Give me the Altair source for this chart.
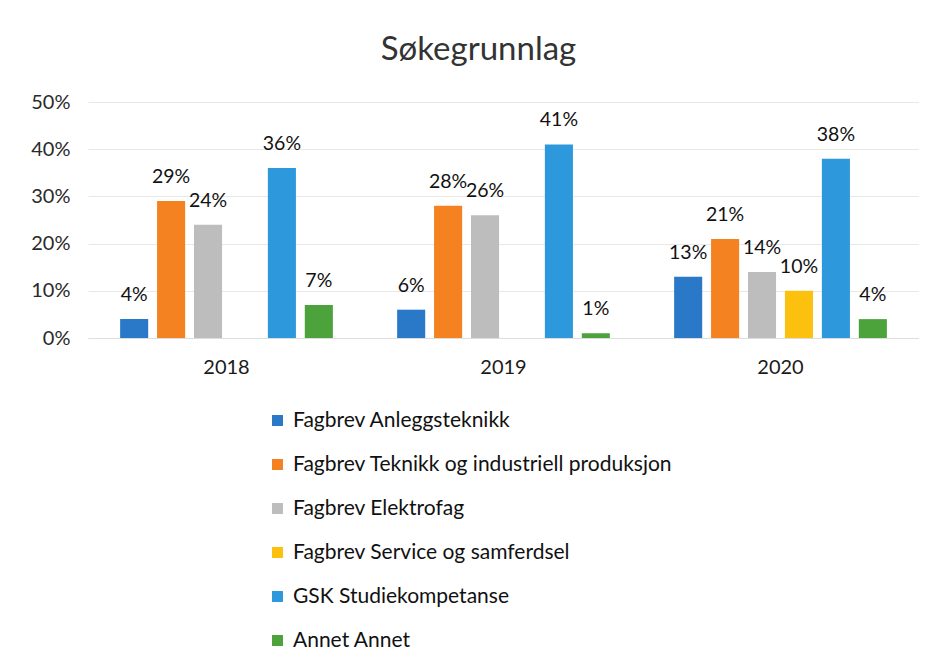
import altair as alt
import pandas as pd

years = ["2018", "2019", "2020"]
series = [
    "Fagbrev Anleggsteknikk",
    "Fagbrev Teknikk og industriell produksjon",
    "Fagbrev Elektrofag",
    "Fagbrev Service og samferdsel",
    "GSK Studiekompetanse",
    "Annet Annet",
]
anlegg = [4, 6, 13]
teknikk = [29, 28, 21]
elektro = [24, 26, 14]
service = [None, None, 10]
gsk = [36, 41, 38]
annet = [7, 1, 4]
colors = ["#2a78c8", "#f58220", "#bdbdbd", "#fcc10f", "#2e98dc", "#4da33b"]

rows = []
for s, vals in zip(series, [anlegg, teknikk, elektro, service, gsk, annet]):
    for y, v in zip(years, vals):
        if v is not None:
            rows.append({"year": y, "series": s, "value": v / 100})
df = pd.DataFrame(rows)

FONT = "Lato"

base = alt.Chart(df).encode(
    x=alt.X("year:N", sort=years, title=None,
            scale=alt.Scale(paddingInner=0, paddingOuter=0),
            axis=alt.Axis(labelAngle=0, labelFontSize=20, labelColor="#1a1a1a",
                          labelFont=FONT, labelPadding=19, ticks=False,
                          domainColor="#dddddd")),
    xOffset=alt.XOffset("series:N", sort=series,
                        scale=alt.Scale(domain=series, paddingInner=0.24, paddingOuter=0.87)),
    y=alt.Y("value:Q", title=None,
            scale=alt.Scale(domain=[0, 0.5]),
            axis=alt.Axis(format="%", values=[0, 0.1, 0.2, 0.3, 0.4, 0.5],
                          labelFontSize=20, labelColor="#2a2a2a", labelFont=FONT,
                          labelPadding=18, ticks=False, domain=False,
                          gridColor="#e8e8e8")),
)

bars = base.mark_bar().encode(
    color=alt.Color("series:N", sort=series,
                    scale=alt.Scale(domain=series, range=colors),
                    legend=alt.Legend(title=None, orient="none", legendX=179, legendY=308,
                                      direction="vertical", symbolType="square",
                                      symbolSize=120, symbolStrokeWidth=0,
                                      labelFontSize=21, labelFont=FONT, labelColor="#111111",
                                      rowPadding=22, labelOffset=5, labelLimit=600))
)

labels = base.mark_text(baseline="alphabetic", dy=-18, fontSize=19.5, font=FONT,
                        color="#111111").encode(
    text=alt.Text("value:Q", format=".0%")
)

chart = alt.layer(bars, labels).properties(
    width=831, height=236,
    title=alt.TitleParams("Søkegrunnlag", fontSize=33, font=FONT, fontWeight="normal",
                          color="#333333", anchor="middle", dx=-25, offset=25),
    autosize=alt.AutoSizeParams(type="none"),
    padding={"left": 80, "top": 94, "right": 0, "bottom": 318},
).configure_view(stroke=None)

chart.save("out.html", embed_options={"renderer": "svg", "actions": False})
